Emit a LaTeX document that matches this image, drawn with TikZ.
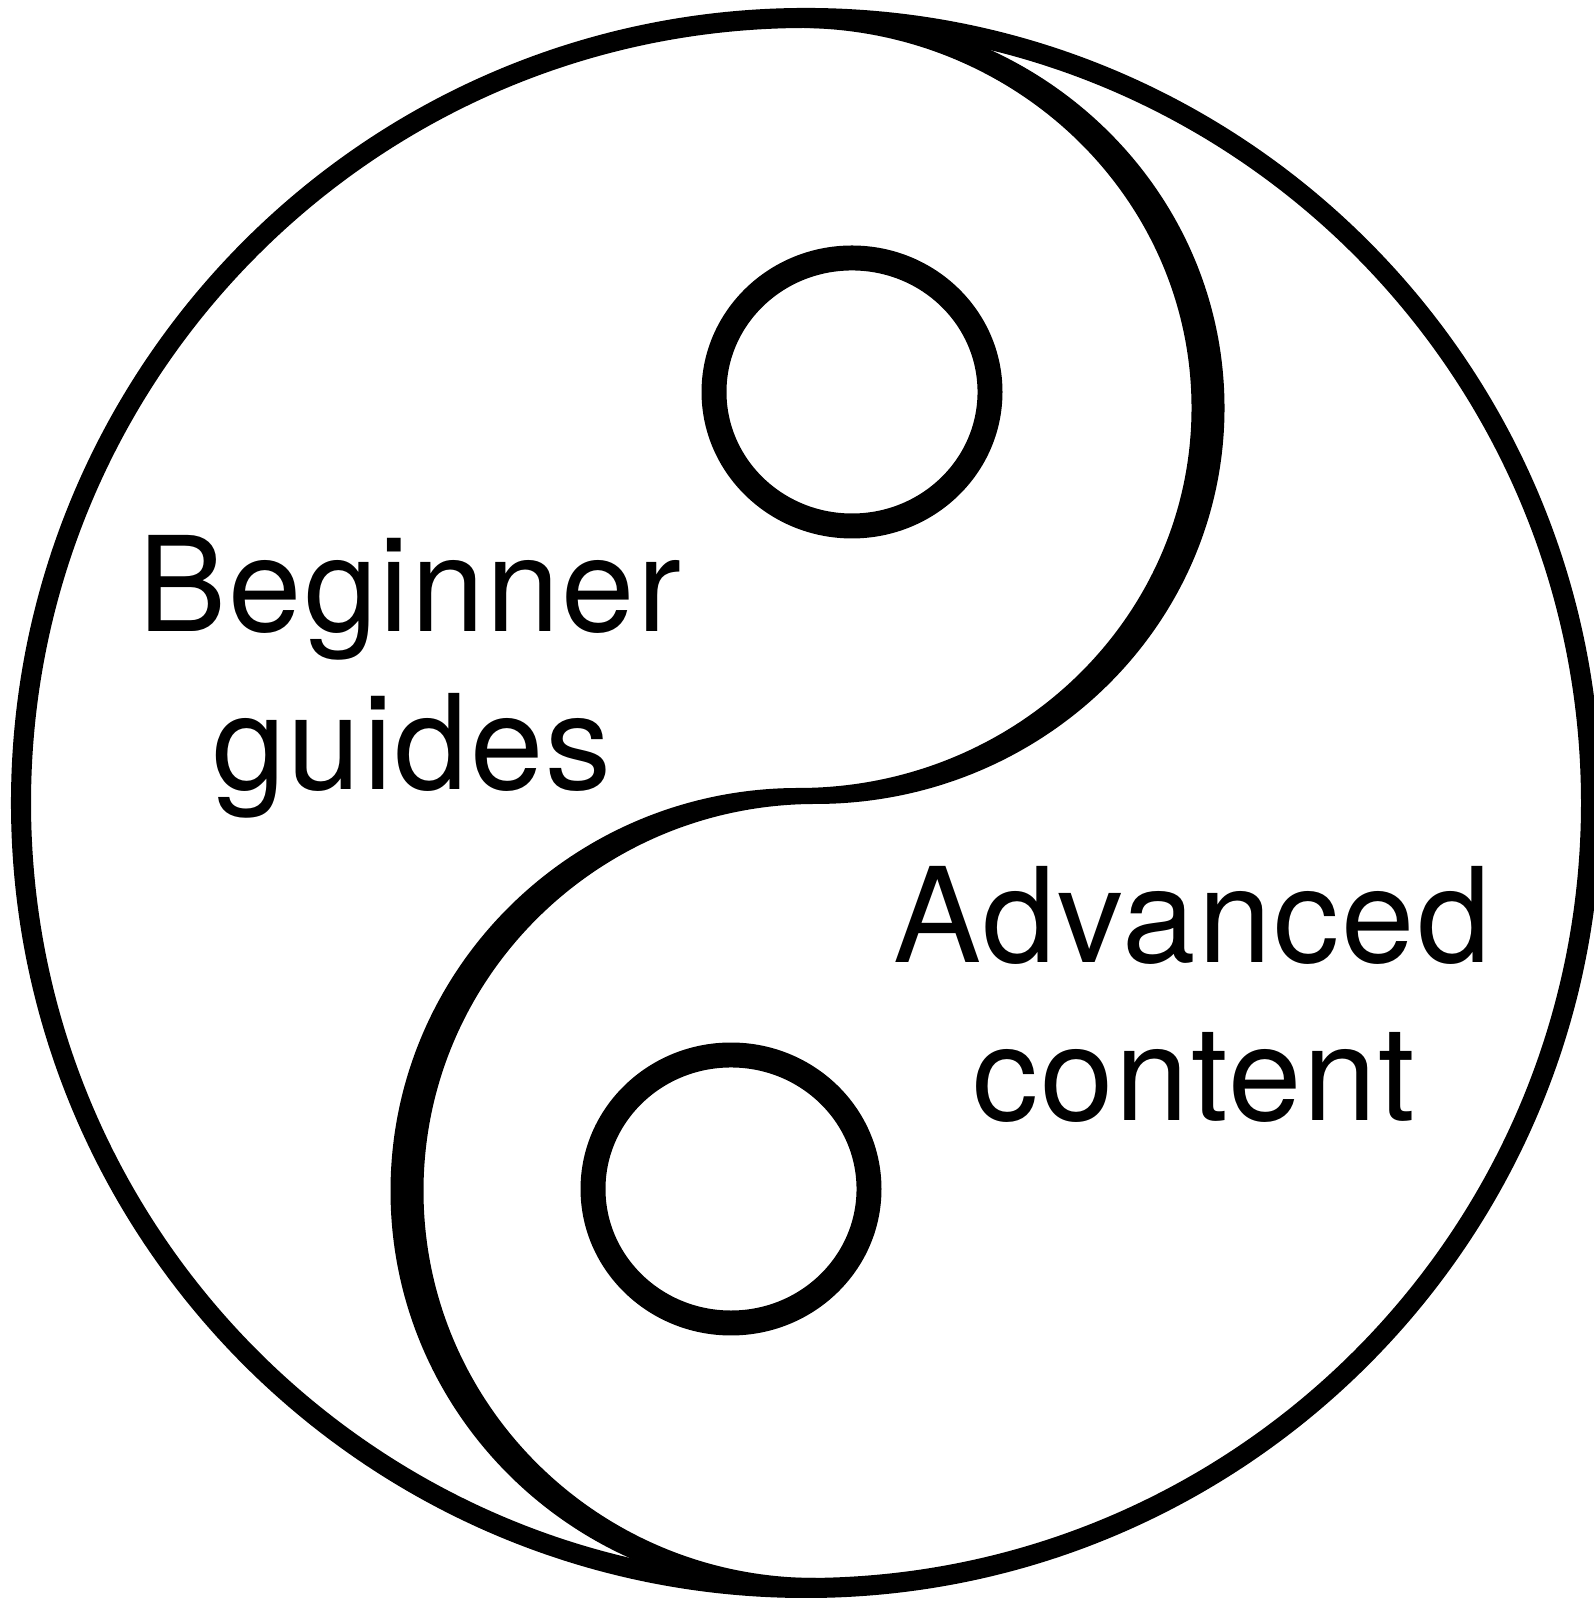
\documentclass[tikz,border=0pt]{standalone}
\usepackage{fontspec}
\setmainfont{TeX Gyre Heros}[LetterSpace=1.6]
\begin{document}
\begin{tikzpicture}[x=0.01cm,y=0.01cm,
  outerline/.style={line width=5.7pt,draw=black},
  dotline/.style={line width=7.1pt,draw=black},
  lbl/.style={inner sep=0pt,anchor=base,font=\fontsize{37.5}{45}\selectfont}]
\fill[white] (0,0) rectangle (1593,1598);
\useasboundingbox (0,0) rectangle (1593,1598);
% outer circle
\draw[outerline] (806,795) circle[radius=785];
% S-shaped band (variable width), trimmed to the outer rim
\begin{scope}
\clip (806,795) circle[radius=794];
\fill[black] (815.5,1586)
  arc[start angle=90,end angle=-90,x radius=409,y radius=396]
  arc[start angle=90,end angle=270,x radius=392,y radius=387]
  -- (798.5,4)
  arc[start angle=270,end angle=90,x radius=408,y radius=403]
  arc[start angle=-90,end angle=90,x radius=393,y radius=380]
  -- cycle;
\end{scope}
% small circles
\draw[dotline] (852,1206) ellipse[x radius=138,y radius=134];
\draw[dotline] (731,409) ellipse[x radius=138,y radius=134];
% labels
\node[lbl] (beg1) at (410,966) {Beginner};
\node[lbl] (beg2) at (412,808) {guides};
\node[lbl] (adv1) at (1192,635) {Advanced};
\node[lbl] (adv2) at (1194,477) {content};
\end{tikzpicture}
\end{document}
